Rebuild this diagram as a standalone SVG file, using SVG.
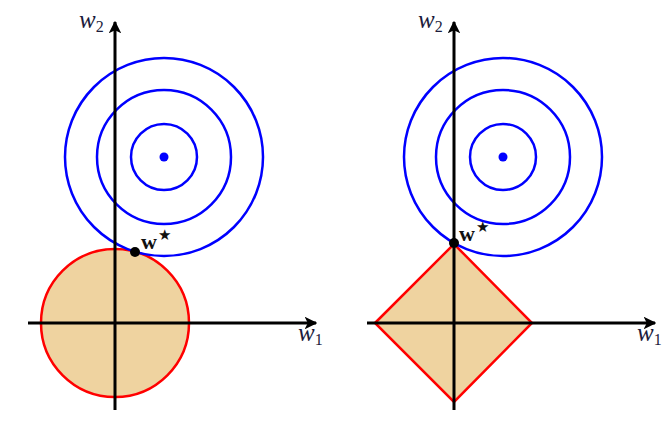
<svg xmlns="http://www.w3.org/2000/svg" width="672" height="427" viewBox="0 0 672 427">
<defs>
<marker id="arr" viewBox="0 0 10 10" refX="9" refY="5" markerWidth="4.2" markerHeight="4.2" markerUnits="strokeWidth" orient="auto">
<path d="M0,0 L10,5 L0,10 L2.5,5 Z" fill="#000"/>
</marker>
<style>
.reg{fill:#EFD3A0;stroke:#FF0000;stroke-width:2.5}
.cont{fill:none;stroke:#0000FF;stroke-width:2.5}
.ax{stroke:#000;stroke-width:3;fill:none}
.lbl{font-style:italic;font-size:25px;fill:#1c1c3c}
.sub{font-style:normal;font-size:16px}
.ws{font-weight:bold;font-size:22px;fill:#111}
.star{font-weight:normal;font-size:15px}
</style>
</defs>
<rect width="672" height="427" fill="#fff"/>
<g id="left-region"><circle class="reg" cx="115" cy="323" r="74"/></g>
<g id="right-region"><polygon class="reg" points="375,323 454,244 532,323 454,402"/></g>
<g id="left-contours">
<circle class="cont" cx="164" cy="157" r="33"/>
<circle class="cont" cx="164" cy="157" r="67"/>
<circle class="cont" cx="164" cy="157" r="99"/>
<circle cx="164" cy="157" r="4.5" fill="#0000FF"/>
</g>
<g id="right-contours">
<circle class="cont" cx="503" cy="157" r="33"/>
<circle class="cont" cx="503" cy="157" r="67"/>
<circle class="cont" cx="503" cy="157" r="99"/>
<circle cx="503" cy="157" r="4.5" fill="#0000FF"/>
</g>
<g id="connectors">
<line class="ax" x1="28" y1="323" x2="316" y2="323" marker-end="url(#arr)"/>
<line class="ax" x1="115" y1="410" x2="115" y2="22" marker-end="url(#arr)"/>
<line class="ax" x1="367" y1="323" x2="655" y2="323" marker-end="url(#arr)"/>
<line class="ax" x1="454" y1="410" x2="454" y2="22" marker-end="url(#arr)"/>
</g>
<g id="left-opt">
<circle cx="135" cy="252" r="5" fill="#000"/>
<text class="ws" font-family="Liberation Serif, serif" x="141" y="249">w<tspan class="star" font-family="DejaVu Sans, sans-serif" dx="1" dy="-9">★</tspan></text>
</g>
<g id="right-opt">
<circle cx="454" cy="243" r="5" fill="#000"/>
<text class="ws" font-family="Liberation Serif, serif" x="459" y="241">w<tspan class="star" font-family="DejaVu Sans, sans-serif" dx="1" dy="-9">★</tspan></text>
</g>
<g id="labels" font-family="Liberation Serif, serif">
<text class="lbl" x="79" y="28">w<tspan class="sub" dy="4">2</tspan></text>
<text class="lbl" x="418" y="28">w<tspan class="sub" dy="4">2</tspan></text>
<text class="lbl" x="298" y="341">w<tspan class="sub" dy="4">1</tspan></text>
<text class="lbl" x="637" y="341">w<tspan class="sub" dy="4">1</tspan></text>
</g>
</svg>
